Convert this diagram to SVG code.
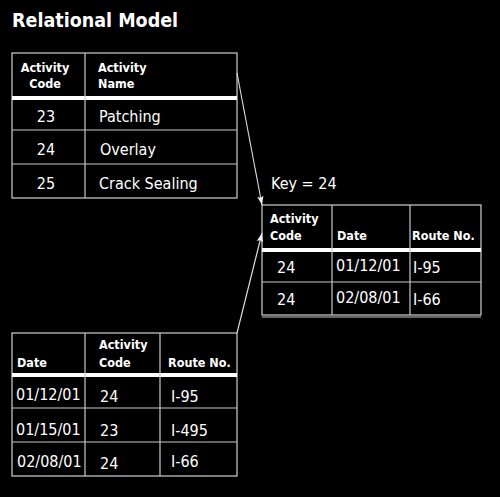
<svg xmlns="http://www.w3.org/2000/svg" width="500" height="497" viewBox="0 0 500 497">
<style>
.bg{fill:#000}
.tb{fill:#000;stroke:#d0d0d0;stroke-width:1.2}
.ln{stroke:#c8c8c8;stroke-width:1.2;fill:none}
.thick{fill:#fff}
.h{font-family:"DejaVu Sans Condensed","DejaVu Sans",sans-serif;font-weight:bold;font-size:12.5px;fill:#fff}
.d{font-family:"DejaVu Sans Condensed","DejaVu Sans",sans-serif;font-size:16px;fill:#fff}
.t{font-family:"DejaVu Sans Condensed","DejaVu Sans",sans-serif;font-weight:bold;font-size:19.5px;fill:#fff}
.arr{stroke:#e0e0e0;stroke-width:1.1;fill:none;marker-end:url(#ah)}
</style>
<defs>
<marker id="ah" viewBox="0 0 10 10" refX="10" refY="5" markerWidth="9" markerHeight="9" markerUnits="userSpaceOnUse" orient="auto">
<path d="M0,1.5 L10,5 L0,8.5 L2,5 Z" fill="#f0f0f0"/>
</marker>
</defs>
<rect class="bg" x="0" y="0" width="500" height="497"/>
<text class="t" x="12" y="27">Relational Model</text>

<g id="activity-table">
<rect class="tb" x="12" y="53" width="225" height="145"/>
<rect class="thick" x="12" y="96" width="225" height="4"/>
<line class="ln" x1="85" y1="53" x2="85" y2="198"/>
<line class="ln" x1="12" y1="130" x2="237" y2="130"/>
<line class="ln" x1="12" y1="164" x2="237" y2="164"/>
<text class="h" x="45" y="72" text-anchor="middle">Activity</text>
<text class="h" x="45" y="88" text-anchor="middle">Code</text>
<text class="h" x="98" y="72">Activity</text>
<text class="h" x="98" y="88">Name</text>
<text class="d" x="46" y="122" text-anchor="middle">23</text>
<text class="d" x="99" y="122">Patching</text>
<text class="d" x="46" y="155" text-anchor="middle">24</text>
<text class="d" x="100" y="155">Overlay</text>
<text class="d" x="46" y="189" text-anchor="middle">25</text>
<text class="d" x="99" y="189">Crack Sealing</text>
</g>

<g id="result-table">
<text class="d" x="271" y="189">Key = 24</text>
<rect class="tb" x="262" y="205" width="219" height="110"/>
<line class="ln" x1="262" y1="317" x2="481" y2="317"/>
<rect class="thick" x="262" y="248" width="219" height="4"/>
<line class="ln" x1="332" y1="205" x2="332" y2="315"/>
<line class="ln" x1="410" y1="205" x2="410" y2="315"/>
<line class="ln" x1="262" y1="282" x2="481" y2="282"/>
<text class="h" x="270" y="223">Activity</text>
<text class="h" x="270" y="240">Code</text>
<text class="h" x="337" y="240">Date</text>
<text class="h" x="412" y="240">Route No.</text>
<text class="d" x="277" y="273">24</text>
<text class="d" x="336" y="271">01/12/01</text>
<text class="d" x="413" y="273">I-95</text>
<text class="d" x="277" y="305">24</text>
<text class="d" x="336" y="303">02/08/01</text>
<text class="d" x="413" y="305">I-66</text>
</g>

<g id="maintenance-table">
<rect class="tb" x="12" y="333" width="225" height="143"/>
<rect class="thick" x="12" y="373" width="225" height="4"/>
<line class="ln" x1="85" y1="333" x2="85" y2="476"/>
<line class="ln" x1="160" y1="333" x2="160" y2="476"/>
<line class="ln" x1="12" y1="408" x2="237" y2="408"/>
<line class="ln" x1="12" y1="442" x2="237" y2="442"/>
<text class="h" x="17" y="367">Date</text>
<text class="h" x="99" y="349">Activity</text>
<text class="h" x="99" y="367">Code</text>
<text class="h" x="168" y="367">Route No.</text>
<text class="d" x="16" y="400">01/12/01</text>
<text class="d" x="100" y="402">24</text>
<text class="d" x="171" y="402">I-95</text>
<text class="d" x="16" y="435">01/15/01</text>
<text class="d" x="100" y="436">23</text>
<text class="d" x="171" y="436">I-495</text>
<text class="d" x="17" y="467">02/08/01</text>
<text class="d" x="100" y="469">24</text>
<text class="d" x="171" y="467">I-66</text>
</g>

<g id="connectors">
<line class="arr" x1="237" y1="73" x2="262" y2="205"/>
<line class="arr" x1="237" y1="333" x2="262" y2="233"/>
</g>
</svg>
